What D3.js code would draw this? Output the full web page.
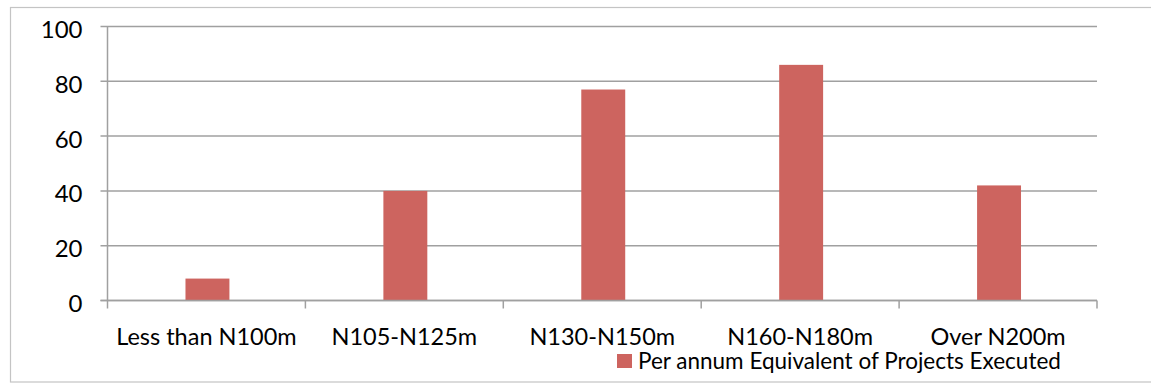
<!DOCTYPE html>
<html>
<head>
<meta charset="utf-8">
<script src="https://cdn.jsdelivr.net/npm/d3@7"></script>
<style>
  html, body { margin: 0; padding: 0; background: #fff; }
  svg { display: block; }
  text { font-family: Lato, "Open Sans", sans-serif; fill: #000; }
</style>
</head>
<body>
<svg id="chart" width="1151" height="385"></svg>
<script>
// Project value bands and per-annum equivalent counts
const categories = ["Less than N100m", "N105-N125m", "N130-N150m", "N160-N180m", "Over N200m"];
const values = [8, 40, 77, 86, 42];
const yTicks = [0, 20, 40, 60, 80, 100];
const seriesName = "Per annum Equivalent of Projects Executed";

const svg = d3.select("#chart");
const W = 1151, H = 385;
const m = { left: 107.5, right: 54, top: 26.5, bottom: 84.5 };
const iw = W - m.left - m.right;
const ih = H - m.top - m.bottom;
const barColor = "#cd645f";
const gridColor = "#a0a0a0";

// outer frame
svg.append("rect")
  .attr("x", 10.5).attr("y", 7.5)
  .attr("width", W + 20).attr("height", 374.5)
  .attr("fill", "none").attr("stroke", "#c4c4c4").attr("stroke-width", 1.2);

const g = svg.append("g").attr("transform", `translate(${m.left},${m.top})`);

const x = d3.scaleBand().domain(categories).range([0, iw]).paddingInner(0).paddingOuter(0);
const y = d3.scaleLinear().domain([0, 100]).range([ih, 0]);

// horizontal gridlines with short left ticks
g.append("g").selectAll("line").data(yTicks).join("line")
  .attr("x1", -7).attr("x2", iw)
  .attr("y1", d => y(d)).attr("y2", d => y(d))
  .attr("stroke", gridColor).attr("stroke-width", 1.5);

// y-axis line
g.append("line").attr("x1", 0).attr("x2", 0).attr("y1", 0).attr("y2", ih)
  .attr("stroke", gridColor).attr("stroke-width", 1.5);

// y tick labels
g.append("g").selectAll("text").data(yTicks).join("text")
  .attr("x", -25).attr("y", d => y(d) + 2)
  .attr("text-anchor", "end").attr("dominant-baseline", "central")
  .attr("font-size", 24)
  .text(d => d);

// bars
const bw = x.bandwidth() * 0.222;
g.append("g").selectAll("rect").data(values).join("rect")
  .attr("x", (d, i) => x(categories[i]) + x.bandwidth() / 2 - bw / 2 + 1)
  .attr("y", d => y(d))
  .attr("width", bw)
  .attr("height", d => ih - y(d))
  .attr("fill", barColor);

// x-axis baseline and category tick marks
g.append("line").attr("x1", -7).attr("x2", iw).attr("y1", ih).attr("y2", ih)
  .attr("stroke", gridColor).attr("stroke-width", 1.5);
const bounds = categories.map(c => x(c)).concat([iw]);
g.append("g").selectAll("line").data(bounds).join("line")
  .attr("x1", d => d).attr("x2", d => d)
  .attr("y1", ih).attr("y2", ih + 8)
  .attr("stroke", gridColor).attr("stroke-width", 1.5);

// category labels
g.append("g").selectAll("text").data(categories).join("text")
  .attr("x", d => x(d) + x.bandwidth() / 2)
  .attr("y", ih + 44.5)
  .attr("text-anchor", "middle")
  .attr("font-size", 23.5)
  .text(d => d);

// legend
const lg = svg.append("g").attr("transform", "translate(617,354)");
lg.append("rect").attr("width", 15).attr("height", 14).attr("fill", barColor);
lg.append("text").attr("x", 21).attr("y", 15)
  .attr("font-size", 22.5).text(seriesName);
</script>
</body>
</html>
